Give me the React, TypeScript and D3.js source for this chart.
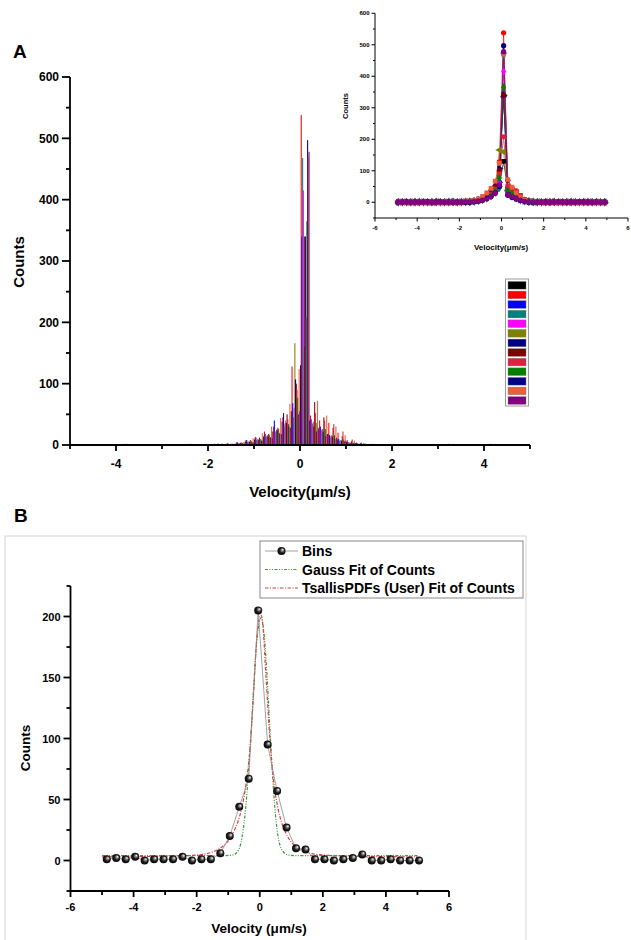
import React from 'react';
import * as d3 from 'd3';

const FONT = '"Liberation Sans", Arial, Helvetica, sans-serif';

// ---------- Panel A data ----------
const velocityBins = [
  -4.9, -4.7, -4.5, -4.3, -4.1, -3.9, -3.7, -3.5, -3.3, -3.1,
  -2.9, -2.7, -2.5, -2.3, -2.1, -1.9, -1.7, -1.5, -1.3, -1.1,
  -0.9, -0.7, -0.5, -0.3, -0.1, 0.1, 0.3, 0.5, 0.7, 0.9,
  1.1, 1.3, 1.5, 1.7, 1.9, 2.1, 2.3, 2.5, 2.7, 2.9,
  3.1, 3.3, 3.5, 3.7, 3.9, 4.1, 4.3, 4.5, 4.7, 4.9,
];

const seriesColors = [
  '#000000', '#FF0000', '#0000FF', '#008080', '#FF00FF', '#808000', '#000080',
  '#800000', '#E0203C', '#008000', '#00008B', '#E8603C', '#800080',
];

const countsS0 = [0,1,0,0,1,0,0,1,0,0,1,0,1,0,1,1,2, 2,3,6,9,14,22,38,55,130,40,28,18,9,5,3,2,1, 1,0,1,0,0,1,0,0,1,0,0,0,1,0,0,0];
const countsS1 = [1,0,1,1,0,0,2,0,1,0,0,1,0,2,1,1,2, 3,5,8,13,22,30,45,128,538,48,40,36,20,8,4,2,1, 1,1,0,0,1,0,0,2,0,1,0,0,0,1,0,0];
const countsS2 = [0,0,1,0,0,1,0,0,0,1,0,0,1,1,0,1,1, 2,4,8,12,18,40,52,68,340,42,30,16,10,5,3,1,1, 0,1,0,1,0,0,0,1,0,0,1,0,0,0,0,1];
const countsS3 = [0,0,0,1,0,0,0,1,0,0,0,1,0,0,1,0,1, 1,2,5,8,12,20,30,45,468,30,20,12,6,3,2,1,0, 1,0,0,0,1,0,0,0,0,1,0,0,0,0,1,0];
const countsS4 = [0,1,0,0,0,1,0,0,1,0,0,0,1,0,0,1,1, 1,3,5,9,14,22,35,60,415,35,25,15,8,4,2,1,0, 0,0,1,0,0,0,1,0,0,0,0,1,0,0,0,0];
const countsS5 = [1,0,0,1,0,0,1,0,0,1,0,1,0,1,0,1,2, 2,3,6,10,16,25,40,166,160,38,26,16,8,4,2,1,1, 0,1,0,0,1,0,1,0,0,0,1,0,0,1,0,0];
const countsS6 = [0,0,1,0,0,0,1,0,0,0,1,0,0,1,0,1,1, 1,3,5,8,14,24,36,107,340,30,22,14,7,3,2,1,0, 1,0,0,1,0,0,0,0,1,0,0,0,1,0,0,0];
const countsS7 = [1,0,0,0,1,0,0,1,0,1,0,0,1,0,1,0,2, 2,4,8,12,18,28,50,100,340,70,45,28,14,6,3,1,1, 0,0,1,0,0,1,0,0,0,1,0,1,0,0,1,0];
const countsS8 = [0,1,0,1,0,0,0,0,1,0,1,0,0,1,0,2,1, 2,4,7,10,16,26,42,90,208,52,40,34,22,9,4,2,1, 1,0,0,0,0,1,0,1,0,0,0,2,0,0,0,1];
const countsS9 = [0,0,0,0,1,0,0,0,0,1,0,0,0,1,0,0,1, 1,3,6,9,13,20,34,77,365,36,26,16,9,4,2,1,0, 0,0,0,1,0,0,0,1,0,0,0,0,0,1,0,0];
const countsS10 = [0,0,1,0,0,0,0,1,0,0,0,0,1,0,0,1,0, 1,2,4,7,12,18,30,50,497,22,15,10,6,3,1,1,0, 0,1,0,0,0,0,1,0,0,0,1,0,0,0,0,0];
const countsS11 = [1,0,0,1,0,1,0,0,1,0,0,1,0,1,1,1,2, 2,5,11,19,30,44,67,124,470,72,48,30,16,7,3,2,1, 1,0,1,0,0,0,1,0,1,0,0,0,1,0,1,0];
const countsS12 = [0,0,0,0,0,1,0,0,0,0,1,0,0,0,1,0,1, 1,2,4,7,11,18,28,55,478,25,18,12,7,3,2,1,0, 0,0,0,0,1,0,0,0,0,1,0,0,0,0,0,0];

const allSeries = [countsS0, countsS1, countsS2, countsS3, countsS4, countsS5, countsS6,
  countsS7, countsS8, countsS9, countsS10, countsS11, countsS12];

const mainYTicks = [0, 100, 200, 300, 400, 500, 600];
const mainYMinor = [50, 150, 250, 350, 450, 550];
const mainXTicks = [-4, -2, 0, 2, 4];
const mainXMinor = [-5, -3, -1, 1, 3, 5];

const insetYTicks = [0, 100, 200, 300, 400, 500, 600];
const insetYMinor = [-50, 50, 150, 250, 350, 450, 550];
const insetXTicks = [-6, -4, -2, 0, 2, 4, 6];
const insetXMinor = [-5, -3, -1, 1, 3, 5];

// ---------- Panel B data ----------
const binsX = [-4.85, -4.55, -4.25, -3.95, -3.65, -3.35, -3.05, -2.75, -2.45, -2.15,
  -1.85, -1.55, -1.25, -0.95, -0.65, -0.35, -0.05, 0.25, 0.55, 0.85,
  1.15, 1.45, 1.75, 2.05, 2.35, 2.65, 2.95, 3.25, 3.55, 3.85,
  4.15, 4.45, 4.75, 5.05];
const binsY = [1, 2, 1, 3, 0, 1, 1, 1, 3, 0,
  1, 1, 6, 20, 44, 67, 205, 95, 57, 27,
  10, 9, 1, 1, 0, 1, 2, 5, 0, 0,
  1, 0, 0, 0];

const gaussX = [-5, -1.2, -0.9, -0.75, -0.6, -0.45, -0.3, -0.2, -0.1, 0, 0.05, 0.1, 0.2, 0.3, 0.4, 0.5, 0.6, 0.75, 0.9, 1.2, 5];
const gaussY = [4, 4, 4.3, 6, 14, 42, 95, 140, 178, 197, 199, 194, 165, 118, 72, 37, 17, 7, 4.5, 4, 4];

const tsallisX = [-5, -3, -2, -1.5, -1.2, -1.0, -0.8, -0.6, -0.45, -0.3, -0.2, -0.1, 0, 0.05, 0.1, 0.2, 0.3, 0.4, 0.5, 0.65, 0.8, 1.0, 1.2, 1.5, 2, 3, 5];
const tsallisY = [3, 3.5, 4.5, 7, 11, 16, 25, 40, 60, 95, 135, 180, 200, 201, 192, 150, 108, 75, 54, 35, 24, 15, 10, 6.5, 4.5, 3.5, 3];

const bYTicks = [0, 50, 100, 150, 200];
const bYMinor = [-25, 25, 75, 125, 175, 225];
const bXTicks = [-6, -4, -2, 0, 2, 4, 6];
const bXMinor = [-5, -3, -1, 1, 3, 5];

const legendBLabels = ['Bins', 'Gauss Fit of Counts', 'TsallisPDFs (User) Fit of Counts'];

export default function App() {
  const xA = d3.scaleLinear().domain([-5, 5]).range([70, 530]);
  const yA = d3.scaleLinear().domain([0, 600]).range([445, 77]);
  const xI = d3.scaleLinear().domain([-6, 6]).range([375, 628]);
  const yI = d3.scaleLinear().domain([-50, 600]).range([218, 13.3]);
  const xB = d3.scaleLinear().domain([-6, 6]).range([70.5, 449]);
  const yB = d3.scaleLinear().domain([-25, 225]).range([891, 586]);

  const binW = xA(0.2) - xA(0);
  const inner = d3.scaleBand<number>().domain(allSeries.map((_, i) => i)).range([0, binW]).paddingInner(0);

  const symbols = [
    { t: d3.symbolSquare, r: 0 }, { t: d3.symbolCircle, r: 0 }, { t: d3.symbolTriangle, r: 0 },
    { t: d3.symbolTriangle, r: 180 }, { t: d3.symbolDiamond, r: 0 }, { t: d3.symbolTriangle, r: -90 },
    { t: d3.symbolTriangle, r: 90 }, { t: d3.symbolCircle, r: 0 }, { t: d3.symbolSquare, r: 0 },
    { t: d3.symbolDiamond, r: 0 }, { t: d3.symbolCircle, r: 0 }, { t: d3.symbolSquare, r: 0 },
    { t: d3.symbolCircle, r: 0 },
  ];

  const insetLine = d3.line<number>().x((_, i) => xI(velocityBins[i])).y(d => yI(d));
  const bLine = d3.line<number>().x((_, i) => xB(binsX[i])).y(d => yB(d));
  const gaussLine = d3.line<number>().x((_, i) => xB(gaussX[i])).y(d => yB(d)).curve(d3.curveMonotoneX);
  const tsallisLine = d3.line<number>().x((_, i) => xB(tsallisX[i])).y(d => yB(d)).curve(d3.curveMonotoneX);

  const bold = { fontFamily: FONT, fontWeight: 700 } as const;

  return (
    <svg width={631} height={940} style={{ position: 'absolute', left: 0, top: 0, background: '#fff' }}>
      <rect x={0} y={0} width={631} height={940} fill="#fff" />
      {/* ===== Panel A ===== */}
      <text x={13} y={58} fontSize={19} {...bold}>A</text>

      <g>
        {allSeries.map((vals, s) => (
          <g key={s} fill={seriesColors[s]}>
            {vals.map((v, i) => {
              const x0 = xA(velocityBins[i] - 0.1) + (inner(s) as number);
              return <rect key={i} x={x0} y={yA(v)} width={inner.bandwidth() + 0.35} height={Math.max(0, yA(0) - yA(v))} />;
            })}
          </g>
        ))}
      </g>

      <g stroke="#000" strokeWidth={1.8}>
        <line x1={xA(-5)} x2={xA(-5)} y1={yA(0) + 1} y2={yA(600)} />
        <line x1={xA(-5)} x2={xA(5)} y1={yA(0)} y2={yA(0)} />
        {mainYTicks.map(t => <line key={t} x1={xA(-5) - 8} x2={xA(-5)} y1={yA(t)} y2={yA(t)} />)}
        {mainYMinor.map(t => <line key={t} x1={xA(-5) - 4} x2={xA(-5)} y1={yA(t)} y2={yA(t)} />)}
        {mainXTicks.map(t => <line key={t} x1={xA(t)} x2={xA(t)} y1={yA(0)} y2={yA(0) + 6} />)}
        {mainXMinor.map(t => <line key={t} x1={xA(t)} x2={xA(t)} y1={yA(0)} y2={yA(0) + 4} />)}
      </g>
      <g fontSize={12} {...bold}>
        {mainYTicks.map(t => <text key={t} x={xA(-5) - 11} y={yA(t) + 4.3} textAnchor="end">{t}</text>)}
        {mainXTicks.map(t => <text key={t} x={xA(t)} y={468} textAnchor="middle">{t}</text>)}
      </g>
      <text x={300} y={497} fontSize={15} textAnchor="middle" {...bold}>Velocity(μm/s)</text>
      <text transform="translate(24,262) rotate(-90)" fontSize={15} textAnchor="middle" {...bold}>Counts</text>

      <rect x={505.5} y={279} width={23} height={127} fill="#fff" stroke="#999" strokeWidth={1} />
      {seriesColors.map((c, i) => (
        <rect key={c + i} x={508} y={281.5 + i * 9.6} width={18} height={7.6} fill={c} stroke="#777" strokeWidth={0.4} />
      ))}

      {/* inset */}
      <g>
        {allSeries.map((vals, s) => (
          <path key={s} d={insetLine(vals) || ''} fill="none" stroke={seriesColors[s]} strokeWidth={0.7} />
        ))}
        {allSeries.map((vals, s) => {
          const sym = d3.symbol().type(symbols[s].t).size(22)();
          return (
            <g key={s} fill={seriesColors[s]}>
              {vals.map((v, i) => (
                <path key={i} d={sym || ''} transform={`translate(${xI(velocityBins[i])},${yI(v)}) rotate(${symbols[s].r})`} />
              ))}
            </g>
          );
        })}
      </g>
      <g stroke="#000" strokeWidth={1}>
        <line x1={xI(-6)} x2={xI(-6)} y1={yI(-50)} y2={yI(600)} />
        <line x1={xI(-6)} x2={xI(6)} y1={yI(-50)} y2={yI(-50)} />
        {insetYTicks.map(t => <line key={t} x1={xI(-6) - 3.5} x2={xI(-6)} y1={yI(t)} y2={yI(t)} />)}
        {insetYMinor.map(t => <line key={t} x1={xI(-6) - 2} x2={xI(-6)} y1={yI(t)} y2={yI(t)} />)}
        {insetXTicks.map(t => <line key={t} x1={xI(t)} x2={xI(t)} y1={yI(-50)} y2={yI(-50) + 3.5} />)}
        {insetXMinor.map(t => <line key={t} x1={xI(t)} x2={xI(t)} y1={yI(-50)} y2={yI(-50) + 2} />)}
      </g>
      <g fontSize={6} {...bold}>
        {insetYTicks.map(t => <text key={t} x={xI(-6) - 5.5} y={yI(t) + 2.1} textAnchor="end">{t}</text>)}
        {insetXTicks.map(t => <text key={t} x={xI(t)} y={229.5} textAnchor="middle">{t}</text>)}
      </g>
      <text x={501} y={250} fontSize={8} textAnchor="middle" {...bold}>Velocity(μm/s)</text>
      <text transform="translate(348,106) rotate(-90)" fontSize={7.5} textAnchor="middle" {...bold}>Counts</text>

      {/* ===== Panel B ===== */}
      <text x={14} y={522} fontSize={19} {...bold}>B</text>
      <rect x={5} y={536} width={521} height={420} fill="none" stroke="#d4d4d4" strokeWidth={1} />

      <defs>
        <radialGradient id="ball" cx="0.5" cy="0.5" r="0.55" fx="0.68" fy="0.32">
          <stop offset="0" stopColor="#ffffff" />
          <stop offset="0.22" stopColor="#9a9a9a" />
          <stop offset="0.55" stopColor="#202020" />
          <stop offset="1" stopColor="#000000" />
        </radialGradient>
      </defs>

      <path d={gaussLine(gaussY) || ''} fill="none" stroke="#3A9A3A" strokeWidth={1.2} strokeDasharray="3,1.5,1,1.5,1,1.5" />
      <path d={tsallisLine(tsallisY) || ''} fill="none" stroke="#E03A3A" strokeWidth={1.2} strokeDasharray="3.5,1.5,1,1.5" />
      <path d={bLine(binsY) || ''} fill="none" stroke="#8a8a8a" strokeWidth={0.8} />
      {binsY.map((v, i) => (
        <circle key={i} cx={xB(binsX[i])} cy={yB(v)} r={4} fill="url(#ball)" />
      ))}

      <g stroke="#000" strokeWidth={1.8}>
        <line x1={xB(-6)} x2={xB(-6)} y1={yB(-25) + 1} y2={yB(225)} />
        <line x1={xB(-6)} x2={xB(6)} y1={yB(-25)} y2={yB(-25)} />
        {bYTicks.map(t => <line key={t} x1={xB(-6) - 7} x2={xB(-6)} y1={yB(t)} y2={yB(t)} />)}
        {bYMinor.map(t => <line key={t} x1={xB(-6) - 4} x2={xB(-6)} y1={yB(t)} y2={yB(t)} />)}
        {bXTicks.map(t => <line key={t} x1={xB(t)} x2={xB(t)} y1={yB(-25)} y2={yB(-25) + 6} />)}
        {bXMinor.map(t => <line key={t} x1={xB(t)} x2={xB(t)} y1={yB(-25)} y2={yB(-25) + 4} />)}
      </g>
      <g fontSize={11} {...bold}>
        {bYTicks.map(t => <text key={t} x={xB(-6) - 10} y={yB(t) + 4} textAnchor="end">{t}</text>)}
        {bXTicks.map(t => <text key={t} x={xB(t)} y={911} textAnchor="middle">{t}</text>)}
      </g>
      <text x={259} y={933} fontSize={13.5} textAnchor="middle" {...bold}>Velocity (μm/s)</text>
      <text transform="translate(30,748) rotate(-90)" fontSize={13.5} textAnchor="middle" {...bold}>Counts</text>

      <rect x={260} y={541} width={263} height={57} fill="#fff" stroke="#888" strokeWidth={1} />
      <line x1={265} x2={298} y1={551} y2={551} stroke="#8a8a8a" strokeWidth={0.8} />
      <circle cx={281.5} cy={551} r={4} fill="url(#ball)" />
      <line x1={265} x2={298} y1={569.5} y2={569.5} stroke="#3A9A3A" strokeWidth={1.2} strokeDasharray="3,1.5,1,1.5,1,1.5" />
      <line x1={265} x2={298} y1={588} y2={588} stroke="#E03A3A" strokeWidth={1.2} strokeDasharray="3.5,1.5,1,1.5" />
      <g fontSize={14} {...bold}>
        {legendBLabels.map((l, i) => (
          <text key={l} x={302} y={556 + i * 18.5}>{l}</text>
        ))}
      </g>
    </svg>
  );
}
